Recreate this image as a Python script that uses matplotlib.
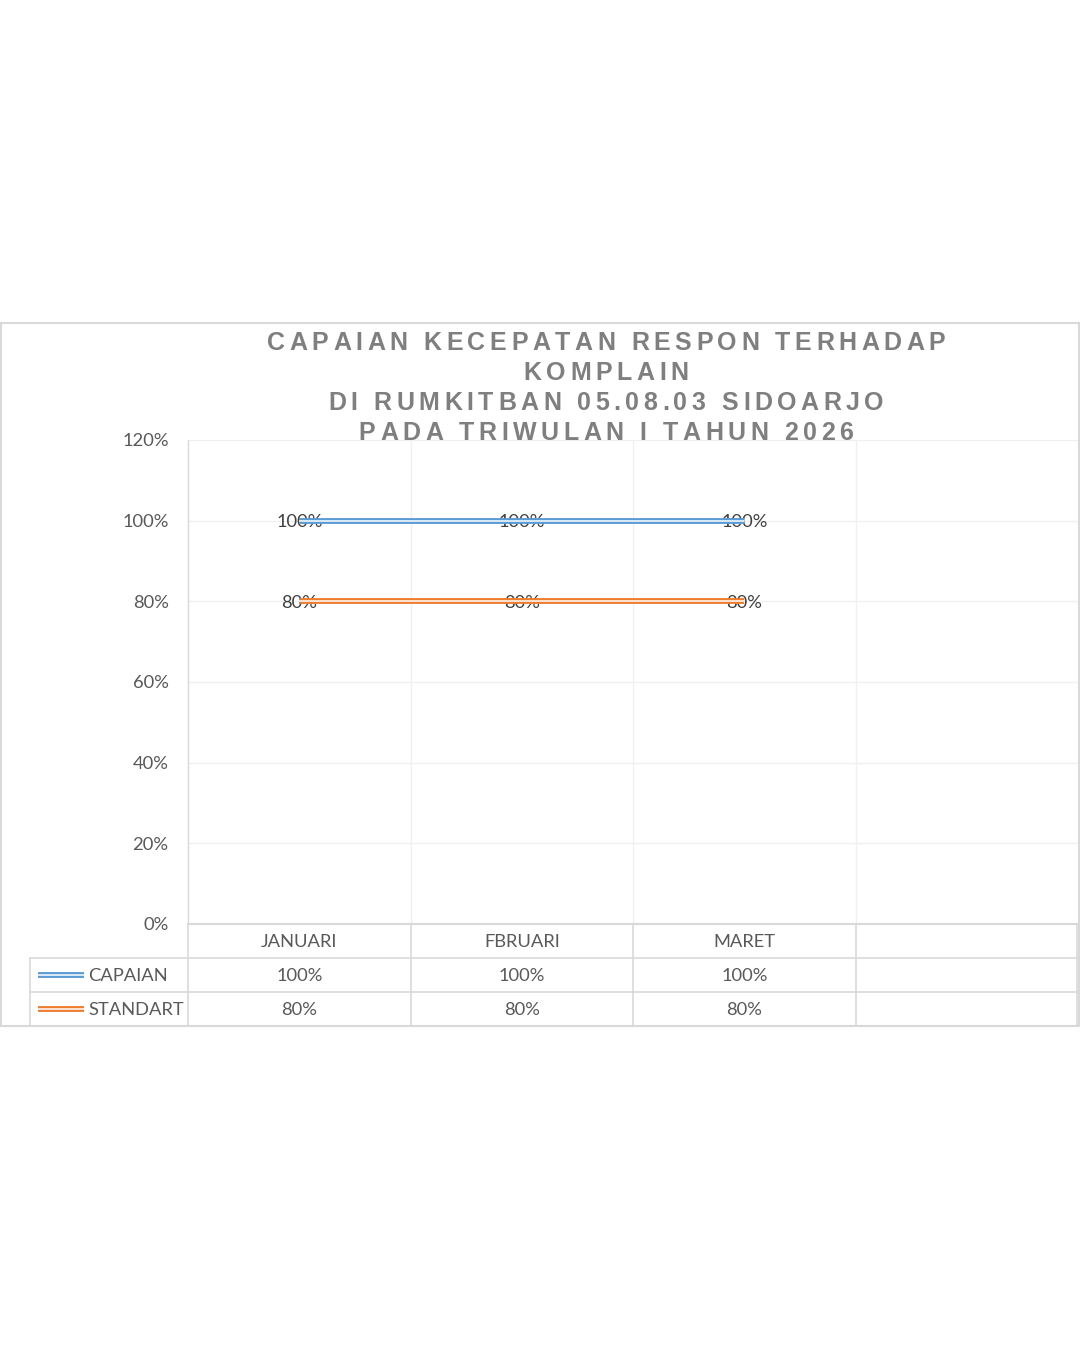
import matplotlib
matplotlib.use('Agg')
import matplotlib.pyplot as plt
from matplotlib.lines import Line2D
from matplotlib.patches import Rectangle
import matplotlib.transforms as mtransforms
from matplotlib import font_manager, ft2font

# ---------------- data ----------------
categories = ['JANUARI', 'FBRUARI', 'MARET']
capaian = [100, 100, 100]
standart = [80, 80, 80]
series_names = ['CAPAIAN', 'STANDART']
yticks = [0, 20, 40, 60, 80, 100, 120]
title_lines = ['CAPAIAN KECEPATAN RESPON TERHADAP',
               'KOMPLAIN',
               'DI RUMKITBAN 05.08.03 SIDOARJO',
               'PADA TRIWULAN I TAHUN 2026']

# ---------------- styles ----------------
BLUE = '#5b9bd5'
ORANGE = '#ed7d31'
TXT = '#595959'
GRID = '#f0f0f0'
BORDER = '#d9d9d9'
FONT = 'Lato'
FS = 13.2

W, H, DPI = 1080, 1350, 100
fig = plt.figure(figsize=(W / DPI, H / DPI), dpi=DPI)
fig.patch.set_facecolor('white')


def fx(x):
    return x / W


def fy(y):
    return 1 - y / H


# outer chart border
fig.add_artist(Rectangle((fx(1), fy(1026)), fx(1078), fy(323) - fy(1026),
                         transform=fig.transFigure, fill=False,
                         edgecolor=BORDER, lw=1.5))

L, R, T, B = 188, 1078, 440, 924
ax = fig.add_axes([fx(L), fy(B), fx(R) - fx(L), fy(T) - fy(B)])
ncols = len(categories) + 1
ax.set_xlim(0, ncols)
ax.set_ylim(0, 120)
ax.set_yticks(yticks)
ax.set_yticklabels([f'{v}%' for v in yticks], fontfamily=FONT, fontsize=FS, color=TXT)
ax.set_xticks([])
ax.tick_params(axis='y', length=0, pad=14)
for s in ['top', 'right']:
    ax.spines[s].set_visible(False)
ax.spines['left'].set_color(BORDER)
ax.spines['bottom'].set_color(BORDER)
ax.spines['left'].set_linewidth(1.0)
ax.spines['bottom'].set_linewidth(1.5)
for v in yticks[1:]:
    ax.axhline(v, color=GRID, lw=1.0, zorder=0)
for i in range(1, ncols):
    ax.axvline(i, color=GRID, lw=1.0, zorder=0)

xs = [i + 0.5 for i in range(len(categories))]


def double_line(axis, x, y, color, **kw):
    axis.plot(x, y, color=color, lw=4.2, solid_capstyle='butt', zorder=3, **kw)
    axis.plot(x, y, color='white', lw=1.1, solid_capstyle='butt', zorder=4, **kw)


for vals, col in [(capaian, BLUE), (standart, ORANGE)]:
    double_line(ax, xs, vals, col)
    for x, v in zip(xs, vals):
        ax.text(x, v - 0.3, f'{v}%', ha='center', va='center', fontfamily=FONT,
                fontsize=FS, color='#404040', zorder=2)

# ---------------- data table ----------------
bt = mtransforms.blended_transform_factory(ax.transData, fig.transFigure)
row_edges = [924, 958, 992, 1026]
for y in row_edges[1:3]:
    fig.add_artist(Line2D([fx(30), fx(1078)], [fy(y), fy(y)], transform=fig.transFigure,
                          color=BORDER, lw=1.2))
for i in range(1, ncols):
    ax.add_artist(Line2D([i, i], [fy(924), fy(1026)], transform=bt, color=BORDER, lw=1.2,
                         clip_on=False))
fig.add_artist(Line2D([fx(188), fx(188)], [fy(924), fy(1026)], transform=fig.transFigure,
                      color=BORDER, lw=1.2))
fig.add_artist(Line2D([fx(1077), fx(1077)], [fy(924), fy(1026)], transform=fig.transFigure,
                      color=BORDER, lw=1.2))
fig.add_artist(Line2D([fx(30), fx(30)], [fy(958), fy(1026)], transform=fig.transFigure,
                      color=BORDER, lw=1.2))

row_y = [(a + b) / 2 for a, b in zip(row_edges[:-1], row_edges[1:])]
for x, c in zip(xs, categories):
    ax.text(x, fy(row_y[0] + 1), c, transform=bt, ha='center', va='center',
            fontfamily=FONT, fontsize=FS, color=TXT, clip_on=False)
for r, (name, vals, col) in enumerate([(series_names[0], capaian, BLUE),
                                       (series_names[1], standart, ORANGE)]):
    yy = row_y[r + 1] + 1
    for x, v in zip(xs, vals):
        ax.text(x, fy(yy), f'{v}%', transform=bt, ha='center', va='center',
                fontfamily=FONT, fontsize=FS, color=TXT, clip_on=False)
    for lw, c in [(4.2, col), (1.1, 'white')]:
        fig.add_artist(Line2D([fx(38), fx(84)], [fy(yy - 1), fy(yy - 1)],
                              transform=fig.transFigure,
                              color=c, lw=lw, solid_capstyle='butt'))
    fig.text(fx(88), fy(yy), name, ha='left', va='center', fontfamily=FONT,
             fontsize=FS, color=TXT)

# ---------------- title with letter spacing ----------------
TSIZE = 18.0
fp = font_manager.FontProperties(family='Liberation Sans', weight='bold')
font = ft2font.FT2Font(font_manager.findfont(fp))
font.set_size(TSIZE, DPI)
SPACING = 4.5
cx = 606
for line, ty in zip(title_lines, [343.5, 373.5, 403.5, 433.5]):
    advs = [font.load_char(ord(ch)).linearHoriAdvance / 65536 for ch in line]
    total = sum(advs) + SPACING * (len(line) - 1)
    x = cx - total / 2
    for ch, a in zip(line, advs):
        if ch != ' ':
            fig.text(fx(x + a / 2), fy(ty), ch, ha='center', va='center',
                     fontproperties=fp, fontsize=TSIZE, color='#7f7f7f')
        x += a + SPACING

fig.savefig('out.png', dpi=DPI, facecolor='white')
